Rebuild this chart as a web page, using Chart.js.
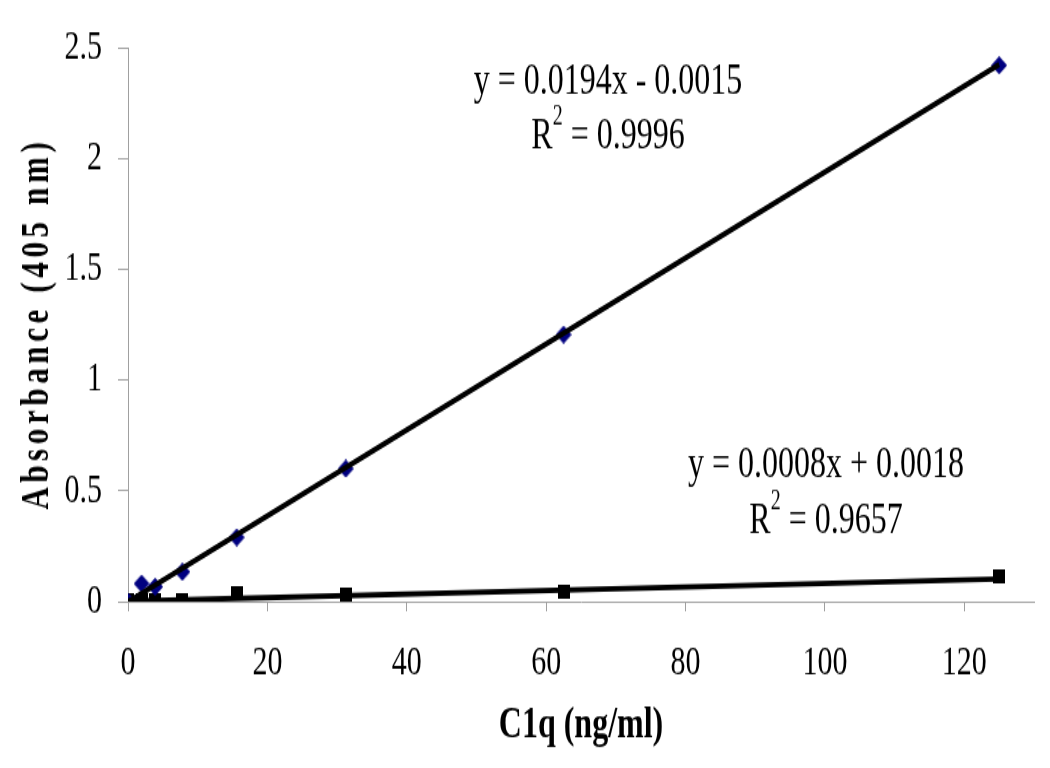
<!DOCTYPE html>
<html>
<head>
<meta charset="utf-8">
<script src="https://cdn.jsdelivr.net/npm/chart.js@4.4.1/dist/chart.umd.min.js"></script>
<style>
  html, body { margin: 0; background: #fff; }
  #marco { width: 1050px; height: 768px; overflow: hidden; }
  /* the reference is stretched vertically, so the chart is drawn flat and scaled */
  #wrap { width: 1050px; height: 549px; transform: scaleY(1.39891); transform-origin: 0 0; }
</style>
</head>
<body>
<div id="marco"><div id="wrap"><canvas id="grafico" width="1050" height="549"></canvas></div></div>
<script>
// concentraciones C1q (ng/ml)
const concentraciones = [0, 1.95, 3.9, 7.8, 15.6, 31.25, 62.5, 125];
// absorbancias
const serieRombos = [0, 0.081, 0.067, 0.134, 0.29, 0.60, 1.205, 2.42];
const serieCuadros = [0.005, 0.004, 0.005, 0.005, 0.036, 0.034, 0.045, 0.112];
// extremos de las lineas de tendencia
const tendenciaX = [0, 125];
const tendencia1Y = [-0.0015, 2.4235];
const tendencia2Y = [0.0018, 0.1018];
// marcas de los ejes
const marcasX = [0, 20, 40, 60, 80, 100, 120];
const marcasY = [0, 0.5, 1, 1.5, 2, 2.5];
// textos
const ecuacion1 = ['y = 0.0194x - 0.0015', '0.9996'];
const ecuacion2 = ['y = 0.0008x + 0.0018', '0.9657'];
const tituloY = 'Absorbance (405 nm)';
const tituloX = 'C1q (ng/ml)';

const FUENTE = "'Liberation Serif', 'Times New Roman', serif";

const puntos = (xs, ys) => xs.map((x, i) => ({ x: x, y: ys[i] }));

// marcadores dibujados a mano (compensan el estirado vertical)
function marcador(tipo) {
    const c = document.createElement('canvas');
    const g = c.getContext('2d');
    if (tipo === 'rombo') {
        c.width = 16; c.height = 13;
        g.fillStyle = '#000080';
        g.beginPath();
        g.moveTo(8, 0); g.lineTo(16, 6.5); g.lineTo(8, 13); g.lineTo(0, 6.5);
        g.closePath();
        g.fill();
    } else {
        c.width = 12; c.height = 10;
        g.fillStyle = '#000';
        g.fillRect(0, 0, 12, 10);
    }
    return c;
}

// ecuaciones con R² y titulo vertical espaciado
const pluginTextos = {
    id: 'textos',
    afterDatasetsDraw(chart) {
        const ctx = chart.ctx;
        const dibujar = (textos, cx, y1, y2) => {
            ctx.save();
            ctx.fillStyle = '#000';
            ctx.textBaseline = 'alphabetic';
            ctx.font = `32px ${FUENTE}`;
            ctx.textAlign = 'center';
            ctx.fillText(textos[0], cx, y1);
            // segunda linea: R + superindice 2 + resto
            const resto = ' = ' + textos[1];
            const wR = ctx.measureText('R').width;
            const wResto = ctx.measureText(resto).width;
            ctx.font = `20px ${FUENTE}`;
            const wSup = ctx.measureText('2').width;
            let x = cx - (wR + wSup + wResto) / 2;
            ctx.textAlign = 'left';
            ctx.font = `32px ${FUENTE}`;
            ctx.fillText('R', x, y2);
            x += wR;
            ctx.font = `20px ${FUENTE}`;
            ctx.fillText('2', x, y2 - 17);
            x += wSup;
            ctx.font = `32px ${FUENTE}`;
            ctx.fillText(resto, x, y2);
            ctx.restore();
        };
        dibujar(ecuacion1, 608, 66.5, 105.5);
        dibujar(ecuacion2, 826, 340.5, 380.5);

        // titulo del eje Y
        ctx.save();
        ctx.fillStyle = '#000';
        ctx.translate(38, 233);
        ctx.rotate(-Math.PI / 2);
        ctx.font = `bold 40px ${FUENTE}`;
        ctx.letterSpacing = '6px';
        const ancho = ctx.measureText(tituloY).width;
        ctx.scale(266 / ancho, 1);
        ctx.textAlign = 'center';
        ctx.textBaseline = 'middle';
        ctx.fillText(tituloY, 3, 0);
        ctx.restore();
    }
};

const GRIS = '#a0a0a0';

new Chart(document.getElementById('grafico'), {
    type: 'scatter',
    data: {
        datasets: [
            {
                data: puntos(tendenciaX, tendencia1Y),
                showLine: true, borderColor: '#000', borderWidth: 4,
                pointRadius: 0, order: 1
            },
            {
                data: puntos(tendenciaX, tendencia2Y),
                showLine: true, borderColor: '#000', borderWidth: 4,
                pointRadius: 0, order: 2
            },
            {
                data: puntos(concentraciones, serieRombos),
                pointStyle: marcador('rombo'), order: 3
            },
            {
                data: puntos(concentraciones, serieCuadros),
                pointStyle: marcador('cuadro'), order: 4
            }
        ]
    },
    options: {
        responsive: false,
        animation: false,
        devicePixelRatio: 1,
        layout: { padding: { top: 31, right: 16, left: 0, bottom: 0 } },
        plugins: {
            legend: { display: false },
            tooltip: { enabled: false }
        },
        scales: {
            x: {
                type: 'linear',
                min: 0, max: 130,
                afterBuildTicks: (s) => { s.ticks = marcasX.map(v => ({ value: v })); },
                afterFit: (s) => { s.height = 119; },
                ticks: { color: '#000', padding: 19, font: { family: FUENTE, size: 30 } },
                grid: { drawOnChartArea: false, drawTicks: true, tickLength: 7, color: GRIS },
                border: { color: GRIS, width: 1 },
                title: {
                    display: true, text: tituloX, color: '#000',
                    font: { family: FUENTE, size: 32, weight: 'bold' },
                    padding: { top: 0, bottom: 11 }
                }
            },
            y: {
                min: 0, max: 2.5,
                afterBuildTicks: (s) => { s.ticks = marcasY.map(v => ({ value: v })); },
                afterFit: (s) => { s.width = 128; },
                ticks: {
                    color: '#000', padding: 16,
                    font: { family: FUENTE, size: 30 },
                    callback: (v) => String(v)
                },
                grid: { drawOnChartArea: false, drawTicks: true, tickLength: 10, color: GRIS },
                border: { color: GRIS, width: 1 },
                title: { display: false }
            }
        }
    },
    plugins: [pluginTextos]
});
</script>
</body>
</html>
